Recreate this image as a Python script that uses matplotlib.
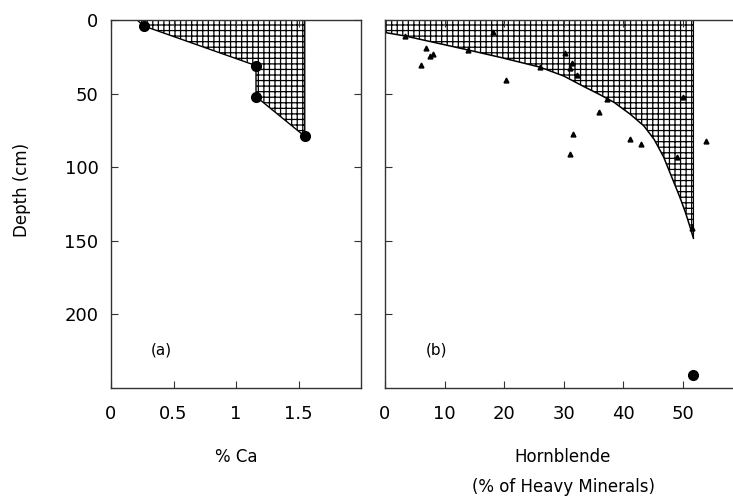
import numpy as np
import matplotlib
matplotlib.use("Agg")
import matplotlib.pyplot as plt

# (a) calcium profile
ca_pct = [0.26, 1.16, 1.16, 1.55]
ca_depth = [4, 31, 52, 79]

# (b) hornblende boundary curve
hb_curve_x = [0, 3.3, 8, 14, 19.5, 26, 30, 33.3, 36, 38.5, 41.2, 43.5, 45.2, 46.8, 48.3, 49.5, 50.5, 51.2, 51.8]
hb_curve_d = [8.5, 10.8, 15, 20.4, 25.5, 32, 38, 45, 50.5, 56, 64, 72, 81, 93, 108, 120, 131, 140, 148]

# (b) individual samples (triangles)
hb_x = [3.3, 6.9, 7.6, 8.1, 6.1, 18.2, 14, 30.3, 31.4, 26, 32.2, 20.4, 31.1,
        36, 31.5, 31, 41.1, 43, 54, 50.1, 49, 37.3, 51.5]
hb_d = [10.7, 19.3, 24.5, 23, 30.6, 8.4, 20.4, 22.7, 29.5, 31.8, 37.4, 40.8, 32.8,
        62.4, 77.6, 91, 81, 84.4, 82, 52, 93, 54, 141]

# (b) deep sample (circle)
hb_deep_x = [51.8]
hb_deep_d = [241]

plt.rcParams['font.family'] = ['DejaVu Sans']
plt.rcParams['hatch.linewidth'] = 0.9

fig = plt.figure(figsize=(7.33, 4.97), dpi=100)
ax1 = fig.add_axes([111/733, 1-388/497, 250/733, 368/497])
ax2 = fig.add_axes([385/733, 1-388/497, 350/733, 368/497])

edge = '#333333'

# ---- panel (a)
poly_x = [0.21] + ca_pct + [ca_pct[-1]]
poly_y = [0] + ca_depth + [0]
ax1.fill(poly_x, poly_y, facecolor='white', edgecolor='black', hatch='+++', lw=1.0)
ax1.plot(ca_pct, ca_depth, 'o', color='black', ms=7)
ax1.set_xlim(0, 2.0)
ax1.set_ylim(250, 0)
ax1.set_xticks([0, 0.5, 1, 1.5])
ax1.set_xticklabels(['0', '0.5', '1', '1.5'])
ax1.set_yticks([0, 50, 100, 150, 200])
ax1.tick_params(direction='in', length=5, width=0.8, color=edge,
                top=True, right=True, labelsize=13)
ax1.tick_params(axis='x', pad=12)
ax1.tick_params(axis='y', pad=9)
ax1.text(0.4, 224, '(a)', fontsize=11, ha='center', va='center')

# ---- panel (b)
px = list(hb_curve_x) + [hb_curve_x[-1], 0]
pd_ = list(hb_curve_d) + [0, 0]
ax2.fill(px, pd_, facecolor='white', edgecolor='black', hatch='+++', lw=0)
ax2.plot(hb_curve_x, hb_curve_d, color='black', lw=1.1)
ax2.plot([hb_curve_x[-1], hb_curve_x[-1]], [0, hb_curve_d[-1]], color='black', lw=0.8)
ax2.plot(hb_x, hb_d, '^', color='black', ms=3.5)
ax2.plot(hb_deep_x, hb_deep_d, 'o', color='black', ms=7)
ax2.set_xlim(0, 58.8)
ax2.set_ylim(250, 0)
ax2.set_xticks([0, 10, 20, 30, 40, 50])
ax2.set_yticks([0, 50, 100, 150, 200])
ax2.set_yticklabels([])
ax2.tick_params(direction='in', length=5, width=0.8, color=edge,
                top=True, right=False, labelsize=13)
ax2.tick_params(axis='x', pad=12)
ax2.spines['right'].set_visible(False)
ax2.text(8.6, 224, '(b)', fontsize=11, ha='center', va='center')

for ax in (ax1, ax2):
    for s in ax.spines.values():
        s.set_color(edge)
        s.set_linewidth(1.0)

fig.text(22/733, 1-190/497, 'Depth (cm)', rotation=90, fontsize=12,
         ha='center', va='center')
fig.text(236/733, 1-457/497, '% Ca', fontsize=12, ha='center', va='center')
fig.text(563/733, 1-457/497, 'Hornblende', fontsize=12, ha='center', va='center')
fig.text(563/733, 1-487/497, '(% of Heavy Minerals)', fontsize=12, ha='center', va='center')

fig.savefig('out.png', dpi=100)
